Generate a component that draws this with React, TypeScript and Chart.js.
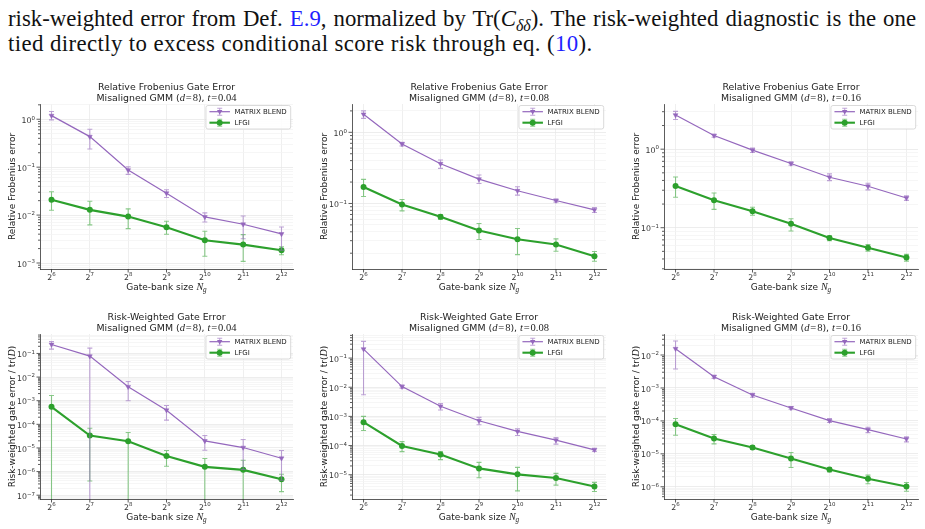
import React, { useEffect, useRef } from "react";
import { Chart, registerables } from "chart.js";

Chart.register(...registerables);

const SANS = "'DejaVu Sans', sans-serif";
const SERIF = "'Liberation Serif', 'DejaVu Serif', serif";

const PURPLE = "#9467bd";
const GREEN = "#2ca02c";
const PURPLE_ERR = "rgba(148,103,189,0.6)";
const GREEN_ERR = "rgba(44,160,44,0.55)";

// ---------- data ----------
const gateBankExponents = [6, 7, 8, 9, 10, 11, 12];
const gateBankTickLabels = ["2^6", "2^7", "2^8", "2^9", "2^10", "2^11", "2^12"];
const seriesLabels = ["MATRIX BLEND", "LFGI"];

// Relative Frobenius gate error, t = 0.04
const frobT004Blend = [1.19, 0.434, 0.087, 0.0287, 0.00917, 0.00644, 0.00404];
const frobT004BlendLow = [0.97, 0.24, 0.0706, 0.0233, 0.0072, 0.0032, 0.00184];
const frobT004BlendHigh = [1.45, 0.62, 0.102, 0.0337, 0.0111, 0.0096, 0.00566];
const frobT004Lfgi = [0.0208, 0.01285, 0.0093, 0.00557, 0.00298, 0.00242, 0.00184];
const frobT004LfgiLow = [0.01265, 0.00624, 0.00523, 0.00397, 0.00138, 0.00108, 0.00149];
const frobT004LfgiHigh = [0.0306, 0.0195, 0.0135, 0.00745, 0.00459, 0.00391, 0.00219];

// Relative Frobenius gate error, t = 0.08
const frobT008Blend = [1.79, 0.685, 0.362, 0.22, 0.151, 0.11, 0.0814];
const frobT008BlendLow = [1.57, 0.642, 0.311, 0.191, 0.131, 0.1045, 0.0747];
const frobT008BlendHigh = [2.0, 0.723, 0.408, 0.251, 0.172, 0.115, 0.0879];
const frobT008Lfgi = [0.17, 0.0968, 0.0649, 0.0417, 0.0315, 0.0265, 0.0181];
const frobT008LfgiLow = [0.1255, 0.0788, 0.0596, 0.0311, 0.0191, 0.0213, 0.0154];
const frobT008LfgiHigh = [0.218, 0.114, 0.07, 0.0522, 0.0445, 0.0318, 0.0211];

// Relative Frobenius gate error, t = 0.16
const frobT016Blend = [2.72, 1.49, 0.971, 0.656, 0.439, 0.337, 0.239];
const frobT016BlendLow = [2.39, 1.42, 0.906, 0.625, 0.398, 0.303, 0.223];
const frobT016BlendHigh = [3.03, 1.55, 1.03, 0.689, 0.484, 0.368, 0.254];
const frobT016Lfgi = [0.34, 0.223, 0.162, 0.1125, 0.0738, 0.0556, 0.0418];
const frobT016LfgiLow = [0.244, 0.171, 0.144, 0.0907, 0.0682, 0.0504, 0.0375];
const frobT016LfgiHigh = [0.443, 0.277, 0.182, 0.13, 0.079, 0.0612, 0.0457];

// Risk-weighted gate error, t = 0.04 (0 = lower bound not positive)
const riskT004Blend = [0.24, 0.0771, 0.00387, 0.000397, 1.99e-5, 1.04e-5, 3.67e-6];
const riskT004BlendLow = [0.153, 0, 0.00099, 0.00015, 8.0e-6, 1.22e-6, 4.3e-7];
const riskT004BlendHigh = [0.322, 0.168, 0.00652, 0.000627, 3.35e-5, 2.27e-5, 7.76e-6];
const riskT004Lfgi = [0.00055, 3.35e-5, 1.93e-5, 4.6e-6, 1.58e-6, 1.18e-6, 4.76e-7];
const riskT004LfgiLow = [0, 4.0e-7, 0, 1.68e-6, 0, 0, 1.42e-7];
const riskT004LfgiHigh = [0.00166, 6.85e-5, 4.5e-5, 7.8e-6, 3.56e-6, 3.02e-6, 7.7e-7];

// Risk-weighted gate error, t = 0.08
const riskT008Blend = [0.204, 0.01054, 0.00222, 0.00071, 0.000305, 0.000154, 7.15e-5];
const riskT008BlendLow = [0.0055, 0.00925, 0.00165, 0.000518, 0.000222, 0.000112, 6.3e-5];
const riskT008BlendHigh = [0.374, 0.012, 0.00275, 0.000925, 0.000377, 0.00019, 8.1e-5];
const riskT008Lfgi = [0.000632, 9.7e-5, 4.9e-5, 1.65e-5, 1.03e-5, 7.7e-6, 3.97e-6];
const riskT008LfgiLow = [0.00033, 6.2e-5, 3.3e-5, 7.9e-6, 2.8e-6, 4.4e-6, 2.67e-6];
const riskT008LfgiHigh = [0.001, 0.000137, 6.2e-5, 2.65e-5, 1.79e-5, 1.11e-5, 5.45e-6];

// Risk-weighted gate error, t = 0.16
const riskT016Blend = [0.01557, 0.0022, 0.000612, 0.000247, 0.000102, 5.42e-5, 2.82e-5];
const riskT016BlendLow = [0.00376, 0.00195, 0.00052, 0.000225, 8.9e-5, 4.4e-5, 2.3e-5];
const riskT016BlendHigh = [0.0266, 0.00241, 0.000689, 0.000271, 0.000118, 6.4e-5, 3.27e-5];
const riskT016Lfgi = [7.9e-5, 2.9e-5, 1.55e-5, 7.2e-6, 3.34e-6, 1.74e-6, 1.02e-6];
const riskT016LfgiLow = [3.67e-5, 2.0e-5, 1.36e-5, 3.85e-6, 2.84e-6, 1.23e-6, 7.3e-7];
const riskT016LfgiHigh = [0.000118, 3.85e-5, 1.79e-5, 1.1e-5, 3.85e-6, 2.25e-6, 1.35e-6];

// ---------- layout / style ----------
const PAD_L = 40;
const PAD_R = 6;
const PAD_T = 27;
const PAD_B = 26;
const TITLE_FS = 9.4;
const AXIS_FS = 9;
const TICK_FS = 7.8;
const LEG_FS = 7;
const CAP = 2.5;

type Seg = { t: string; font: string; dy?: number };

function segsWidth(ctx: CanvasRenderingContext2D, segs: Seg[]) {
  let w = 0;
  for (const s of segs) {
    ctx.font = s.font;
    w += ctx.measureText(s.t).width;
  }
  return w;
}

// align: 0 = centered at x, 1 = right edge at x
function drawRich(ctx: CanvasRenderingContext2D, segs: Seg[], x0: number, baseline: number, color: string, align = 0) {
  const w = segsWidth(ctx, segs);
  let x = align === 1 ? x0 - w : x0 - w / 2;
  ctx.fillStyle = color;
  ctx.textAlign = "left";
  ctx.textBaseline = "alphabetic";
  for (const s of segs) {
    ctx.font = s.font;
    ctx.fillText(s.t, x, baseline + (s.dy || 0));
    x += ctx.measureText(s.t).width;
  }
}

function isMajor(v: number) {
  const l = Math.log10(v);
  return Math.abs(l - Math.round(l)) < 1e-6;
}

const sansF = (s: number) => `${s}px ${SANS}`;
const mathIt = (s: number) => `italic ${s}px ${SERIF}`;
const mathRm = (s: number) => `${s}px ${SERIF}`;

function powerSegs(base: string, exp: string): Seg[] {
  return [
    { t: base, font: sansF(TICK_FS) },
    { t: exp, font: sansF(TICK_FS * 0.7), dy: -TICK_FS * 0.42 },
  ];
}

type PanelCfg = {
  key: string;
  left: number;
  right: number;
  top: number;
  bottom: number;
  yMin: number;
  yMax: number;
  kind: "frob" | "risk";
  tValue: string;
  blend: number[];
  blendLow: number[];
  blendHigh: number[];
  lfgi: number[];
  lfgiLow: number[];
  lfgiHigh: number[];
};

function roundRectPath(ctx: CanvasRenderingContext2D, x: number, y: number, w: number, h: number, r: number) {
  ctx.beginPath();
  ctx.moveTo(x + r, y);
  ctx.lineTo(x + w - r, y);
  ctx.arcTo(x + w, y, x + w, y + r, r);
  ctx.lineTo(x + w, y + h - r);
  ctx.arcTo(x + w, y + h, x + w - r, y + h, r);
  ctx.lineTo(x + r, y + h);
  ctx.arcTo(x, y + h, x, y + h - r, r);
  ctx.lineTo(x, y + r);
  ctx.arcTo(x, y, x + r, y, r);
  ctx.closePath();
}

function drawTriDown(ctx: CanvasRenderingContext2D, x: number, y: number, r: number) {
  ctx.beginPath();
  ctx.moveTo(x - r, y - r * 0.6);
  ctx.lineTo(x + r, y - r * 0.6);
  ctx.lineTo(x, y + r);
  ctx.closePath();
  ctx.fill();
}

function makePlugin(p: PanelCfg) {
  return {
    id: "mplDecor",
    beforeDatasetDraw(chart: any, args: any) {
      const { ctx, chartArea: a } = chart;
      const ys = chart.scales.y;
      const ds = chart.data.datasets[args.index];
      const meta = args.meta;
      ctx.save();
      ctx.beginPath();
      ctx.rect(a.left, a.top, a.right - a.left, a.bottom - a.top);
      ctx.clip();
      ctx.strokeStyle = ds.errColor;
      ctx.lineWidth = 1.1;
      meta.data.forEach((pt: any, i: number) => {
        const lo = ds.errLow[i];
        const hi = ds.errHigh[i];
        const yHi = ys.getPixelForValue(hi);
        const yLo = lo > 0 ? ys.getPixelForValue(lo) : a.bottom + 10;
        ctx.beginPath();
        ctx.moveTo(pt.x, yLo);
        ctx.lineTo(pt.x, yHi);
        ctx.moveTo(pt.x - CAP, yHi);
        ctx.lineTo(pt.x + CAP, yHi);
        if (lo > 0) {
          ctx.moveTo(pt.x - CAP, yLo);
          ctx.lineTo(pt.x + CAP, yLo);
        }
        ctx.stroke();
      });
      ctx.restore();
    },
    afterDraw(chart: any) {
      const { ctx, chartArea: a } = chart;
      const ys = chart.scales.y;
      const xs = chart.scales.x;
      ctx.save();
      // tick marks
      ctx.strokeStyle = "#333";
      ctx.lineWidth = 0.8;
      ctx.beginPath();
      ys.ticks.forEach((t: any) => {
        const y = ys.getPixelForValue(t.value);
        const len = isMajor(t.value) ? 3.5 : 2;
        ctx.moveTo(a.left - len, y);
        ctx.lineTo(a.left, y);
      });
      xs.ticks.forEach((t: any) => {
        const x = xs.getPixelForValue(t.value);
        ctx.moveTo(x, a.bottom);
        ctx.lineTo(x, a.bottom + 3.5);
      });
      ctx.stroke();

      // tick labels (mathtext-style powers)
      ys.ticks.forEach((t: any) => {
        if (!isMajor(t.value)) return;
        const y = ys.getPixelForValue(t.value);
        const e = Math.round(Math.log10(t.value));
        const expStr = e < 0 ? "\u2212" + String(-e) : String(e);
        drawRich(ctx, powerSegs("10", expStr), a.left - 5, y + 3.6, "#333", 1);
      });
      xs.ticks.forEach((t: any) => {
        const idx = gateBankExponents.indexOf(t.value);
        if (idx < 0) return;
        const [base, exp] = gateBankTickLabels[idx].split("^");
        const x = xs.getPixelForValue(t.value);
        drawRich(ctx, powerSegs(base, exp), x, a.bottom + 10.6, "#333", 0);
      });

      const cx = (a.left + a.right) / 2;
      // titles
      const mfs = TITLE_FS * 1.12;
      const line1: Seg[] = [
        { t: p.kind === "frob" ? "Relative Frobenius Gate Error" : "Risk-Weighted Gate Error", font: sansF(TITLE_FS) },
      ];
      const line2: Seg[] = [
        { t: "Misaligned GMM (", font: sansF(TITLE_FS) },
        { t: "d", font: mathIt(mfs) },
        { t: "\u200A=\u200A8", font: mathRm(mfs) },
        { t: "), ", font: sansF(TITLE_FS) },
        { t: "t", font: mathIt(mfs) },
        { t: "\u200A=\u200A" + p.tValue, font: mathRm(mfs) },
      ];
      drawRich(ctx, line1, cx, a.top - 14.3, "#222");
      drawRich(ctx, line2, cx, a.top - 3.4, "#222");

      // x title
      const xt: Seg[] = [
        { t: "Gate-bank size ", font: sansF(AXIS_FS) },
        { t: "N", font: mathIt(AXIS_FS * 1.12) },
        { t: "g", font: mathIt(AXIS_FS * 0.8), dy: 2.3 },
      ];
      drawRich(ctx, xt, cx, a.bottom + 20.8, "#222");

      // y title
      const yt: Seg[] =
        p.kind === "frob"
          ? [{ t: "Relative Frobenius error", font: sansF(AXIS_FS) }]
          : [
              { t: "Risk-weighted gate error / tr(", font: sansF(AXIS_FS) },
              { t: "D", font: mathIt(AXIS_FS * 1.12) },
              { t: ")", font: sansF(AXIS_FS) },
            ];
      ctx.save();
      ctx.translate(a.left - 28.5, (a.top + a.bottom) / 2);
      ctx.rotate(-Math.PI / 2);
      drawRich(ctx, yt, 0, 3.3, "#222");
      ctx.restore();

      // legend
      ctx.font = sansF(LEG_FS);
      const tw = Math.max(...seriesLabels.map((s) => ctx.measureText(s).width));
      const boxW = 3.5 + 20.5 + 4.5 + tw + 4;
      const boxH = 23.5;
      const x0 = a.right - 2.3 - boxW;
      const y0 = a.top + 1.5;
      roundRectPath(ctx, x0, y0, boxW, boxH, 2);
      ctx.fillStyle = "rgba(255,255,255,0.85)";
      ctx.fill();
      ctx.strokeStyle = "#d0d0d0";
      ctx.lineWidth = 0.8;
      ctx.stroke();
      chart.data.datasets.forEach((ds: any, i: number) => {
        const ry = y0 + 6.2 + i * 11;
        const lx0 = x0 + 3.5;
        const lx1 = x0 + 24;
        const mx = (lx0 + lx1) / 2;
        ctx.strokeStyle = ds.borderColor;
        ctx.lineWidth = ds.borderWidth;
        ctx.beginPath();
        ctx.moveTo(lx0, ry);
        ctx.lineTo(lx1, ry);
        ctx.stroke();
        ctx.strokeStyle = ds.errColor;
        ctx.lineWidth = 1.1;
        ctx.beginPath();
        ctx.moveTo(mx, ry - 3.5);
        ctx.lineTo(mx, ry + 3.5);
        ctx.moveTo(mx - CAP, ry - 3.5);
        ctx.lineTo(mx + CAP, ry - 3.5);
        ctx.moveTo(mx - CAP, ry + 3.5);
        ctx.lineTo(mx + CAP, ry + 3.5);
        ctx.stroke();
        ctx.fillStyle = ds.borderColor;
        if (i === 0) drawTriDown(ctx, mx, ry, 2.7);
        else {
          ctx.beginPath();
          ctx.arc(mx, ry, 3, 0, Math.PI * 2);
          ctx.fill();
        }
        ctx.fillStyle = "#222";
        ctx.font = sansF(LEG_FS);
        ctx.textAlign = "left";
        ctx.textBaseline = "middle";
        ctx.fillText(seriesLabels[i], x0 + 28.5, ry + 0.4);
      });
      ctx.restore();
    },
  };
}

function Panel({ p }: { p: PanelCfg }) {
  const ref = useRef<HTMLCanvasElement | null>(null);
  const W = p.right - p.left + PAD_L + PAD_R;
  const H = p.bottom - p.top + PAD_T + PAD_B;

  useEffect(() => {
    if (!ref.current) return;
    const pts = (vals: number[]) => gateBankExponents.map((e, i) => ({ x: e, y: vals[i] }));
    const chart = new Chart(ref.current, {
      type: "line",
      data: {
        datasets: [
          {
            label: seriesLabels[0],
            data: pts(p.blend),
            borderColor: PURPLE,
            backgroundColor: PURPLE,
            borderWidth: 1.2,
            pointStyle: "triangle",
            pointRotation: 180,
            pointRadius: 2.8,
            pointBorderWidth: 0.5,
            pointBackgroundColor: PURPLE,
            pointBorderColor: PURPLE,
            tension: 0,
            errLow: p.blendLow,
            errHigh: p.blendHigh,
            errColor: PURPLE_ERR,
          } as any,
          {
            label: seriesLabels[1],
            data: pts(p.lfgi),
            borderColor: GREEN,
            backgroundColor: GREEN,
            borderWidth: 2.1,
            pointStyle: "circle",
            pointRadius: 3,
            pointBorderWidth: 0,
            pointBackgroundColor: GREEN,
            tension: 0,
            errLow: p.lfgiLow,
            errHigh: p.lfgiHigh,
            errColor: GREEN_ERR,
          } as any,
        ],
      },
      options: {
        responsive: false,
        animation: false,
        devicePixelRatio: 1,
        layout: { padding: { left: 0, right: PAD_R, top: PAD_T, bottom: 0 } },
        plugins: {
          legend: { display: false },
          tooltip: { enabled: false },
          title: { display: false },
        },
        scales: {
          x: {
            type: "linear",
            bounds: "data",
            min: 5.7,
            max: 12.3,
            afterBuildTicks: (scale: any) => {
              scale.ticks = gateBankExponents.map((v) => ({ value: v }));
            },
            afterFit: (scale: any) => {
              scale.height = PAD_B;
            },
            ticks: { display: false, autoSkip: false },
            grid: { color: "#ebebeb", lineWidth: 0.8, drawTicks: false },
            border: { display: true, color: "#333", width: 0.8 },
          },
          y: {
            type: "logarithmic",
            min: p.yMin,
            max: p.yMax,
            afterBuildTicks: (scale: any) => {
              const ticks: any[] = [];
              const e0 = Math.floor(Math.log10(p.yMin));
              const e1 = Math.ceil(Math.log10(p.yMax));
              for (let e = e0; e <= e1; e++) {
                for (let m = 1; m <= 9; m++) {
                  const v = m * Math.pow(10, e);
                  if (v >= p.yMin && v <= p.yMax) ticks.push({ value: v, major: m === 1 });
                }
              }
              scale.ticks = ticks;
            },
            afterFit: (scale: any) => {
              scale.width = PAD_L;
            },
            ticks: { display: false, autoSkip: false },
            grid: {
              drawTicks: false,
              lineWidth: 0.8,
              color: (ctx: any) => (ctx.tick && isMajor(ctx.tick.value) ? "#e8e8e8" : "#f4f4f4"),
            },
            border: { display: true, color: "#333", width: 0.8 },
          },
        },
      } as any,
      plugins: [makePlugin(p)],
    });
    return () => chart.destroy();
  }, []);

  return (
    <canvas
      ref={ref}
      width={W}
      height={H}
      style={{ position: "absolute", left: p.left - PAD_L, top: p.top - PAD_T, width: W, height: H }}
    />
  );
}

const TOP_Y = [104, 269];
const BOT_Y = [334, 499];

const panels: PanelCfg[] = [
  { key: "f004", left: 40, right: 293, top: TOP_Y[0], bottom: TOP_Y[1], yMin: 7.5e-4, yMax: 2.08, kind: "frob", tValue: "0.04",
    blend: frobT004Blend, blendLow: frobT004BlendLow, blendHigh: frobT004BlendHigh, lfgi: frobT004Lfgi, lfgiLow: frobT004LfgiLow, lfgiHigh: frobT004LfgiHigh },
  { key: "f008", left: 352, right: 606, top: TOP_Y[0], bottom: TOP_Y[1], yMin: 0.012, yMax: 2.5, kind: "frob", tValue: "0.08",
    blend: frobT008Blend, blendLow: frobT008BlendLow, blendHigh: frobT008BlendHigh, lfgi: frobT008Lfgi, lfgiLow: frobT008LfgiLow, lfgiHigh: frobT008LfgiHigh },
  { key: "f016", left: 664, right: 918, top: TOP_Y[0], bottom: TOP_Y[1], yMin: 0.0298, yMax: 3.76, kind: "frob", tValue: "0.16",
    blend: frobT016Blend, blendLow: frobT016BlendLow, blendHigh: frobT016BlendHigh, lfgi: frobT016Lfgi, lfgiLow: frobT016LfgiLow, lfgiHigh: frobT016LfgiHigh },
  { key: "r004", left: 40, right: 293, top: BOT_Y[0], bottom: BOT_Y[1], yMin: 6.9e-8, yMax: 0.665, kind: "risk", tValue: "0.04",
    blend: riskT004Blend, blendLow: riskT004BlendLow, blendHigh: riskT004BlendHigh, lfgi: riskT004Lfgi, lfgiLow: riskT004LfgiLow, lfgiHigh: riskT004LfgiHigh },
  { key: "r008", left: 352, right: 606, top: BOT_Y[0], bottom: BOT_Y[1], yMin: 1.47e-6, yMax: 0.67, kind: "risk", tValue: "0.08",
    blend: riskT008Blend, blendLow: riskT008BlendLow, blendHigh: riskT008BlendHigh, lfgi: riskT008Lfgi, lfgiLow: riskT008LfgiLow, lfgiHigh: riskT008LfgiHigh },
  { key: "r016", left: 664, right: 918, top: BOT_Y[0], bottom: BOT_Y[1], yMin: 4.25e-7, yMax: 0.0435, kind: "risk", tValue: "0.16",
    blend: riskT016Blend, blendLow: riskT016BlendLow, blendHigh: riskT016BlendHigh, lfgi: riskT016Lfgi, lfgiLow: riskT016LfgiLow, lfgiHigh: riskT016LfgiHigh },
];

const LINK = "#1f1fff";

export default function App() {
  return (
    <div style={{ position: "fixed", left: 0, top: 0, width: 925, height: 529, background: "#fff", overflow: "hidden" }}>
      <div
        style={{
          position: "absolute",
          left: 8,
          top: 6,
          width: 908,
          fontFamily: SERIF,
          fontSize: 22.8,
          lineHeight: "25px",
          color: "#111",
        }}
      >
        <div style={{ textAlign: "justify", textAlignLast: "justify" as any }}>
          risk-weighted error from Def. <span style={{ color: LINK }}>E.9</span>, normalized by Tr(<i>C</i>
          <span style={{ fontSize: "0.7em", position: "relative", top: "0.3em", lineHeight: 0 }}>
            <i>δδ</i>
          </span>
          ). The risk-weighted diagnostic is the one
        </div>
        <div style={{ whiteSpace: "nowrap", letterSpacing: "0.4px" }}>
          tied directly to excess conditional score risk through eq. (<span style={{ color: LINK }}>10</span>).
        </div>
      </div>
      {panels.map((p) => (
        <Panel key={p.key} p={p} />
      ))}
    </div>
  );
}
